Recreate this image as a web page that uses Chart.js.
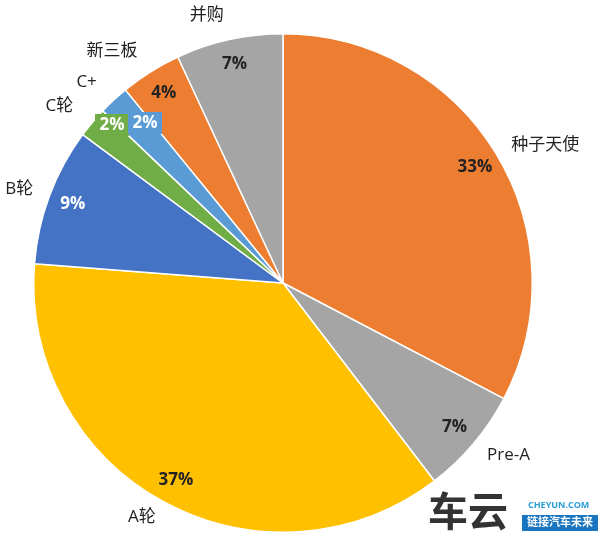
<!DOCTYPE html>
<html>
<head>
<meta charset="utf-8">
<script src="https://cdn.jsdelivr.net/npm/chart.js@4/dist/chart.umd.min.js"></script>
<style>
body { margin: 0; background: #fff; }
#wrap { width: 600px; height: 546px; position: relative; }
</style>
</head>
<body>
<div id="wrap"><canvas id="pie"></canvas></div>
<script>
const labels = ["种子天使", "Pre-A", "A轮", "B轮", "C轮", "C+", "新三板", "并购"];
const values = [33, 7, 37, 9, 2, 2, 4, 7];
const percents = ["33%", "7%", "37%", "9%", "2%", "2%", "4%", "7%"];
const colors = ["#ED7D31", "#A5A5A5", "#FFC000", "#4472C4", "#70AD47", "#5B9BD5", "#ED7D31", "#A5A5A5"];
const pctColors = ["#222", "#222", "#222", "#fff", "#fff", "#fff", "#222", "#222"];

const font = '"Open Sans", "Noto Sans CJK SC", sans-serif';

// draws the names outside and the percentages inside the slices
const labelPlugin = {
    id: "labels",
    afterDatasetsDraw(chart) {
        const ctx = chart.ctx;
        const arcs = chart.getDatasetMeta(0).data;
        ctx.save();
        ctx.textBaseline = "middle";
        arcs.forEach((arc, i) => {
            const mid = (arc.startAngle + arc.endAngle) / 2;
            const r = arc.outerRadius;
            let px = arc.x + Math.cos(mid) * r * 0.9;
            let py = arc.y + Math.sin(mid) * r * 0.9;
            // the two thin slices get boxed labels pulled side by side
            if (i == 4 || i == 5) {
                px = i == 4 ? 112 : 145;
                py = i == 4 ? 125 : 123;
                ctx.fillStyle = colors[i];
                ctx.fillRect(px - 17, py - 11, 34, 22);
            }
            ctx.font = "bold 17px " + font;
            ctx.textAlign = "center";
            ctx.fillStyle = pctColors[i];
            ctx.fillText(percents[i], px, py);

            const nr = i < 4 ? 1.07 : 1.1;
            const nx = arc.x + Math.cos(mid) * r * nr;
            const ny = arc.y + Math.sin(mid) * r * nr;
            ctx.font = "17px " + font;
            ctx.fillStyle = "#222";
            ctx.textAlign = Math.cos(mid) > 0.05 ? "left" : (Math.cos(mid) < -0.05 ? "right" : "center");
            ctx.fillText(labels[i], nx, ny);
        });
        // watermark
        ctx.textAlign = "left";
        ctx.fillStyle = "#333";
        ctx.font = "bold 40px " + font;
        ctx.fillText("车云", 428, 515);
        ctx.fillStyle = "#2a9fd8";
        ctx.font = "bold 9px " + font;
        ctx.fillText("CHEYUN.COM", 528, 505);
        ctx.fillStyle = "#1a75c0";
        ctx.fillRect(522, 515, 76, 16);
        ctx.fillStyle = "#fff";
        ctx.font = "bold 11px " + font;
        ctx.fillText("链接汽车未来", 527, 523);
        ctx.restore();
    }
};

new Chart(document.getElementById("pie"), {
    type: "pie",
    data: {
        labels,
        datasets: [{
            data: values,
            backgroundColor: colors,
            borderColor: "#fff",
            borderWidth: 1.5
        }]
    },
    options: {
        responsive: true,
        maintainAspectRatio: false,
        animation: false,
        layout: { padding: { left: 33, right: 67, top: 33, bottom: 13 } },
        plugins: { legend: { display: false }, tooltip: { enabled: false } }
    },
    plugins: [labelPlugin]
});
</script>
</body>
</html>
